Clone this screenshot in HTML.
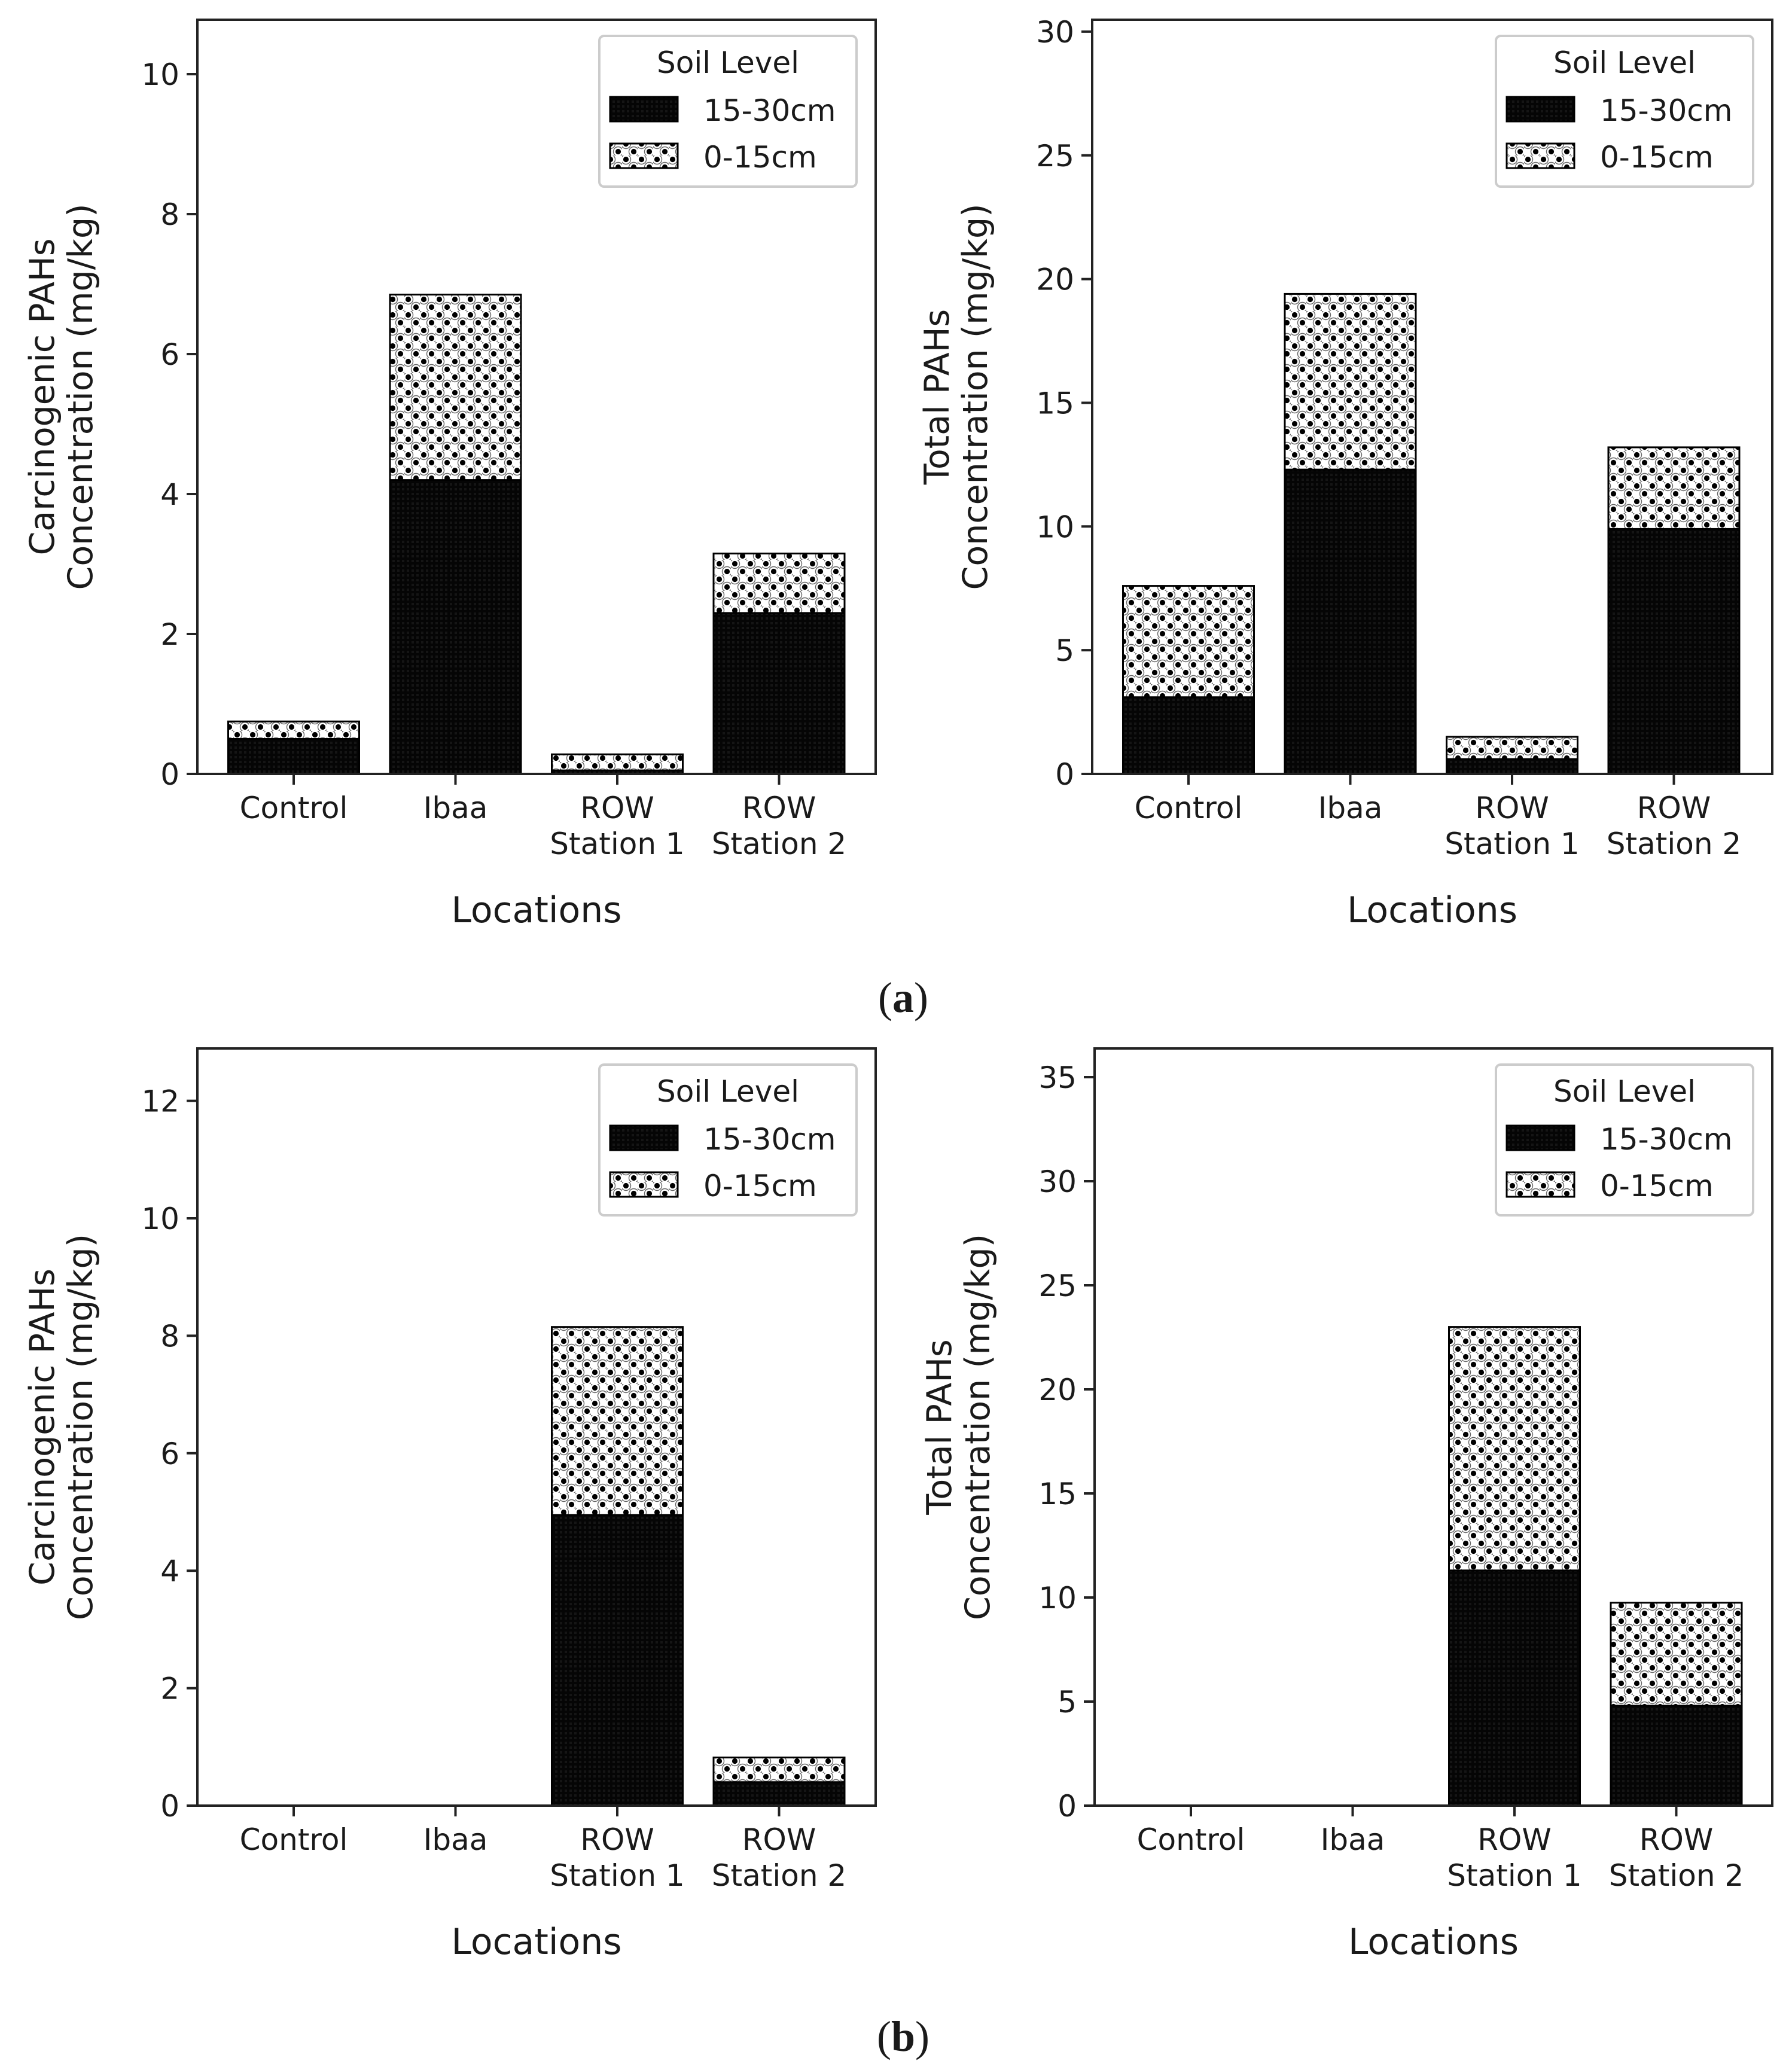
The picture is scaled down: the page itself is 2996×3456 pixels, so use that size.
<!DOCTYPE html>
<html><head><meta charset="utf-8"><style>
html,body{margin:0;padding:0;background:#fff}
svg{display:block}
text{font-family:"DejaVu Sans","Liberation Sans",sans-serif;fill:#1a1a1a}
</style></head><body>
<svg id="fig" xmlns="http://www.w3.org/2000/svg" width="2996" height="3456" viewBox="0 0 2996 3456">
<defs>
<pattern id="dots" patternUnits="userSpaceOnUse" width="26" height="26">
<rect width="26" height="26" fill="#fff"/>
<circle cx="6.5" cy="6.5" r="4.6" fill="#000"/>
<circle cx="19.5" cy="19.5" r="4.6" fill="#000"/>
<circle cx="6.5" cy="6.5" r="8" fill="none" stroke="#000" stroke-width="1.4" opacity="0.6"/>
<circle cx="19.5" cy="19.5" r="8" fill="none" stroke="#000" stroke-width="1.4" opacity="0.6"/>
</pattern>
<pattern id="dark" patternUnits="userSpaceOnUse" width="8" height="8">
<rect width="8" height="8" fill="#050505"/>
<rect width="4" height="4" fill="#151515"/>
</pattern>
</defs>
<text x="1510" y="1692" text-anchor="middle" style="font-family:'Liberation Serif',serif;font-size:72px">(<tspan font-weight="bold">a</tspan>)</text>
<text x="1510" y="3429" text-anchor="middle" style="font-family:'Liberation Serif',serif;font-size:72px">(<tspan font-weight="bold">b</tspan>)</text>
</svg>
<script>
const categories = [["Control"],["Ibaa"],["ROW","Station 1"],["ROW","Station 2"]];
const carcA_deep = [0.5, 4.2, 0.05, 2.3];
const carcA_top  = [0.25, 2.65, 0.23, 0.85];
const totalA_deep = [3.1, 12.3, 0.6, 9.9];
const totalA_top  = [4.5, 7.1, 0.9, 3.3];
const carcB_deep = [0, 0, 4.95, 0.4];
const carcB_top  = [0, 0, 3.2, 0.42];
const totalB_deep = [0, 0, 11.3, 4.8];
const totalB_top  = [0, 0, 11.7, 4.95];
const ticksCarcA = [0,2,4,6,8,10];
const ticksTotalA = [0,5,10,15,20,25,30];
const ticksCarcB = [0,2,4,6,8,10,12];
const ticksTotalB = [0,5,10,15,20,25,30,35];

const NS = "http://www.w3.org/2000/svg";
const svg = document.getElementById('fig');
function mk(tag, attrs, parent){
  const e = document.createElementNS(NS, tag);
  for (const k in attrs) e.setAttribute(k, attrs[k]);
  (parent||svg).appendChild(e); return e;
}
function panel(p){
  const g = mk('g', {});
  
  
  const y = v => p.zero - v * p.unit;
  const xc = i => p.left + 161 + i * 270.5;
  const bw = 219;
  for (let i = 0; i < categories.length; i++){
    const d = p.deep[i], t = p.top[i];
    if (d > 0){
      const r = mk('rect', {x: xc(i)-bw/2, y: y(d), width: bw, height: y(0)-y(d), fill: 'url(#dark)', stroke: '#000', 'stroke-width': 3}, g);
      
      
    }
    if (t > 0){
      const r = mk('rect', {x: xc(i)-bw/2, y: y(d+t), width: bw, height: y(d)-y(d+t), fill: 'url(#dots)', stroke: '#000', 'stroke-width': 3}, g);
      
      
    }
  }
  const f = mk('rect', {x: p.left, y: p.top0, width: p.right-p.left, height: p.zero-p.top0, fill: 'none', stroke: '#222', 'stroke-width': 4}, g);
  
  
  p.ticks.forEach(v => {
    mk('line', {x1: p.left-18, x2: p.left, y1: y(v), y2: y(v), stroke: '#222', 'stroke-width': 4}, g);
    const t = mk('text', {x: p.left-30, y: y(v)+18, 'text-anchor': 'end', 'font-size': 50}, g);
    
    
    t.textContent = v;
  });
  categories.forEach((c, i) => {
    mk('line', {x1: xc(i), x2: xc(i), y1: p.zero, y2: p.zero+18, stroke: '#222', 'stroke-width': 4}, g);
    c.forEach((s, j) => {
      const t = mk('text', {x: xc(i), y: p.zero + 74 + j*60, 'text-anchor': 'middle', 'font-size': 50}, g);
      
      
      t.textContent = s;
    });
  });
  const xl = mk('text', {x: (p.left+p.right)/2, y: p.zero + 248, 'text-anchor': 'middle', 'font-size': 60}, g);
  
  
  xl.textContent = 'Locations';
  const cy = (p.top0 + p.zero)/2;
  p.ylabel.forEach((s, j) => {
    const lx = p.left - 240 + j*64;
    const t = mk('text', {x: lx, y: cy, 'text-anchor': 'middle', 'font-size': 57, transform: `rotate(-90 ${lx} ${cy})`}, g);
    
    
    t.textContent = s;
  });
  const lx0 = p.right - 462, ly0 = p.top0 + 27;
  const lg = mk('g', {}, g);
  
  
  mk('rect', {x: lx0, y: ly0, width: 430, height: 252, rx: 8, fill: '#fff', stroke: '#ccc', 'stroke-width': 4}, lg);
  const lt = mk('text', {x: lx0+215, y: ly0+62, 'text-anchor': 'middle', 'font-size': 50}, lg);
  
  
  lt.textContent = 'Soil Level';
  [['url(#dark)','15-30cm',102],['url(#dots)','0-15cm',180]].forEach(([fill, lab, oy]) => {
    const s = mk('rect', {x: lx0+18, y: ly0+oy, width: 113, height: 41, fill: fill, stroke: '#000', 'stroke-width': 3}, lg);
    
    
    const t = mk('text', {x: lx0+174, y: ly0+oy+40, 'font-size': 50}, lg);
    
    
    t.textContent = lab;
  });
}
panel({name:'chart-carcinogenic-a', left:330, right:1464, top0:33, zero:1294, unit:117, ticks:ticksCarcA, deep:carcA_deep, top:carcA_top, ylabel:['Carcinogenic PAHs','Concentration (mg/kg)']});
panel({name:'chart-total-a', left:1826, right:2963, top0:33, zero:1294, unit:41.37, ticks:ticksTotalA, deep:totalA_deep, top:totalA_top, ylabel:['Total PAHs','Concentration (mg/kg)']});
panel({name:'chart-carcinogenic-b', left:330, right:1464, top0:1753, zero:3019, unit:98.2, ticks:ticksCarcB, deep:carcB_deep, top:carcB_top, ylabel:['Carcinogenic PAHs','Concentration (mg/kg)']});
panel({name:'chart-total-b', left:1830, right:2963, top0:1753, zero:3019, unit:34.8, ticks:ticksTotalB, deep:totalB_deep, top:totalB_top, ylabel:['Total PAHs','Concentration (mg/kg)']});
</script>
</body></html>
